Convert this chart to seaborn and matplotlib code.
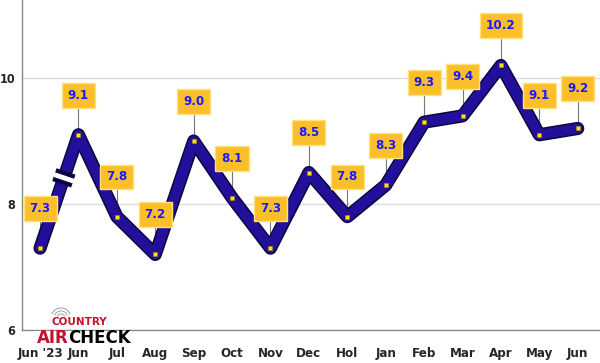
import seaborn as sns
import matplotlib.pyplot as plt
import numpy as np
import pandas as pd
from matplotlib import font_manager
from matplotlib.patches import Arc

months = ["Jun '23", "Jun", "Jul", "Aug", "Sep", "Oct", "Nov", "Dec",
          "Hol", "Jan", "Feb", "Mar", "Apr", "May", "Jun"]
ratings = [7.3, 9.1, 7.8, 7.2, 9.0, 8.1, 7.3, 8.5, 7.8, 8.3, 9.3, 9.4, 10.2, 9.1, 9.2]
y_ticks = [6, 8, 10]

sns.set_style("white")
names = {f.name for f in font_manager.fontManager.ttflist}
narrow = "Liberation Sans Narrow" if "Liberation Sans Narrow" in names else "DejaVu Sans"
plt.rcParams['font.family'] = [narrow, 'DejaVu Sans']
plt.rcParams['font.stretch'] = 'condensed'

df = pd.DataFrame({"idx": np.arange(len(months)), "rating": ratings})

fig = plt.figure(figsize=(6, 3.63), dpi=100)
ax = fig.add_axes([22 / 600, 33 / 363, 1 - 22 / 600, 1 - 33 / 363])

# dark outline + navy line
sns.lineplot(data=df, x="idx", y="rating", ax=ax, color="#0b0640", linewidth=9.5,
             solid_capstyle="round", solid_joinstyle="round", zorder=3)
sns.lineplot(data=df, x="idx", y="rating", ax=ax, color="#23109a", linewidth=7.3,
             solid_capstyle="round", solid_joinstyle="round", zorder=4)
ax.scatter(df["idx"], df["rating"], marker="s", s=10, color="#ffe600",
           edgecolor="#b08a00", linewidth=0.4, zorder=6)

ax.set_xlim(-0.47, 14.58)
ax.set_ylim(6, 11.24)

# axis break on the first segment
fig.canvas.draw()
p0 = ax.transData.transform((0, ratings[0]))
p1 = ax.transData.transform((1, ratings[1]))
d = (p1 - p0) / np.linalg.norm(p1 - p0)
n = np.array([-d[1], d[0]])
c = p0 + (p1 - p0) * 0.62
inv = ax.transData.inverted()
for off, col, lw in [(-4, "#0b0640", 4), (4, "#0b0640", 4), (0, "white", 3.5)]:
    a = inv.transform(c + d * off - n * 10)
    b = inv.transform(c + d * off + n * 10)
    ax.plot([a[0], b[0]], [a[1], b[1]], color=col, lw=lw, zorder=5,
            solid_capstyle="butt")

# callout labels
for i, v in enumerate(ratings):
    ly = v + 0.63
    ax.plot([i, i], [v, ly], color="#777777", lw=0.8, zorder=2)
    ax.text(i, ly, f"{v:.1f}", ha="center", va="center", fontsize=9.5,
            fontweight="bold", color="#1a1aff", zorder=7,
            bbox=dict(boxstyle="square,pad=0.45", facecolor="#fbbf2c",
                      edgecolor="#ffe27a", linewidth=1))

ax.set_xticks(df["idx"])
ax.set_xticklabels(months, fontsize=9.5, fontweight="bold")
ax.set_yticks(y_ticks)
ax.set_yticklabels([str(t) for t in y_ticks], fontsize=9, fontweight="bold")
ax.tick_params(axis="x", direction="in", length=5, color="#888888", pad=12)
ax.tick_params(axis="y", length=0, pad=5)
for t in [8, 10]:
    ax.axhline(t, color="#dddddd", lw=1, zorder=1)
for s in ["top", "right"]:
    ax.spines[s].set_visible(False)
for s in ["left", "bottom"]:
    ax.spines[s].set_color("#888888")
    ax.spines[s].set_linewidth(1)
ax.set_xlabel("")
ax.set_ylabel("")

# logo
fig.patches.append(plt.Rectangle((34 / 600, 1 - 347 / 363), 98 / 600, 16 / 363,
                                 transform=fig.transFigure, facecolor="white",
                                 edgecolor="none", zorder=8))
for r in [4, 7, 10]:
    fig.patches.append(Arc((61 / 600, 1 - 318 / 363), 2 * r / 600, 2 * r / 363,
                           theta1=35, theta2=145, transform=fig.transFigure,
                           color="#aaaaaa", lw=0.8, zorder=9))
fig.text(79 / 600, 1 - 322 / 363, "COUNTRY", fontsize=7.5, fontweight="bold",
         color="#c8102e", family="DejaVu Sans", fontstretch="normal",
         ha="center", va="center", zorder=9)
fig.text(37 / 600, 1 - 338 / 363, "AIR", fontsize=12, fontweight="bold",
         color="#c8102e", family="DejaVu Sans", fontstretch="normal",
         ha="left", va="center", zorder=9)
fig.text(68 / 600, 1 - 338 / 363, "CHECK", fontsize=12, fontweight="bold",
         color="black", family="DejaVu Sans", fontstretch="normal",
         ha="left", va="center", zorder=9)

fig.savefig("out.png", dpi=100)
